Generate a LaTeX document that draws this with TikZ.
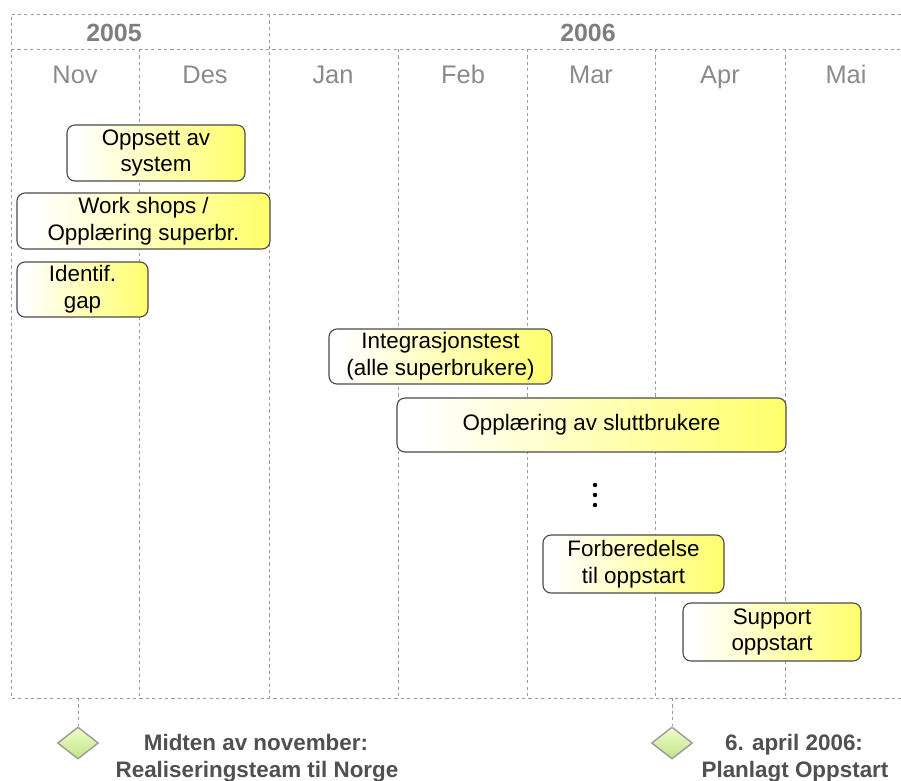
\documentclass[tikz,border=0pt]{standalone}
\usepackage{fontspec}
\setmainfont{Liberation Sans}
\usetikzlibrary{shapes.geometric}

% white-to-yellow fill of the task bars
\pgfdeclarehorizontalshading{taskfill}{100bp}{%
  rgb(0bp)=(1,1,1); rgb(28bp)=(1,1,1); rgb(75bp)=(1,1,0.42); rgb(100bp)=(1,1,0.42)}
% pale green fill of the milestone marks
\pgfdeclareverticalshading{milefill}{100bp}{%
  rgb(0bp)=(0.76,0.89,0.52); rgb(25bp)=(0.76,0.89,0.52); rgb(75bp)=(0.94,1,0.80); rgb(100bp)=(0.94,1,0.80)}

\definecolor{gridgray}{HTML}{9A9A9A}
\definecolor{labelgray}{HTML}{8A8A8A}
\definecolor{yeargray}{HTML}{7E7E7E}
\definecolor{milegray}{HTML}{505050}
\definecolor{edgegray}{HTML}{4A4A4A}

\tikzset{
  grid line/.style={draw=gridgray, line width=0.9pt, dash pattern=on 3.2pt off 3.2pt},
  month/.style={text=labelgray, anchor=base, font=\fontsize{25.5}{30}\selectfont},
  year/.style={text=yeargray, anchor=base, font=\fontsize{25}{30}\selectfont\bfseries},
  task/.style={draw=edgegray, line width=1.1pt, rounded corners=8pt,
    shading=taskfill, align=center, inner sep=0pt,
    font=\fontsize{22.5}{27}\selectfont},
  milestone/.style={diamond, draw=gridgray, line width=1.4pt, shading=milefill,
    shading angle=0, minimum width=41bp, minimum height=32bp, inner sep=0pt},
  miletext/.style={text=milegray, align=center, anchor=base,
    font=\fontsize{22.5}{27.5}\selectfont\bfseries},
}

\begin{document}
\begin{tikzpicture}[x=1bp, y=-1bp]
  \useasboundingbox (0,0) rectangle (901,781);

  % calendar frame
  \draw[grid line] (901,14) -- (11,14) -- (11,698) -- (901,698);
  \draw[grid line] (11,49) -- (901,49);
  \draw[grid line] (269,14) -- (269,698);
  \foreach \x in {139,398,527,655,785}
    \draw[grid line] (\x,49) -- (\x,698);

  % years
  \node[year] (y2005) at (114,42) {2005};
  \node[year] (y2006) at (588,42) {2006};

  % months
  \node[month] (mnov) at (75,84)  {Nov};
  \node[month] (mdes) at (205,84) {Des};
  \node[month] (mjan) at (333,84) {Jan};
  \node[month] (mfeb) at (463,84) {Feb};
  \node[month] (mmar) at (591,84) {Mar};
  \node[month] (mapr) at (720,84) {Apr};
  \node[month] (mmai) at (846,84) {Mai};

  % activities
  \node[task, minimum width=178bp, minimum height=56bp] (t1) at (156,153)
    {Oppsett av\\system};
  \node[task, minimum width=253bp, minimum height=56bp] (t2) at (143.5,221)
    {Work shops /\\Opplæring superbr.};
  \node[task, minimum width=131bp, minimum height=55bp] (t3) at (82.5,289.5)
    {Identif.\\gap};
  \node[task, minimum width=223bp, minimum height=55bp] (t4) at (440.5,356.5)
    {Integrasjonstest\\(alle superbrukere)};
  \node[task, minimum width=389bp, minimum height=54bp] (t5) at (591.5,425)
    {Opplæring av sluttbrukere};
  \node[task, minimum width=181bp, minimum height=58bp] (t6) at (633.5,564)
    {Forberedelse\\til oppstart};
  \node[task, minimum width=178bp, minimum height=58bp] (t7) at (772,632)
    {Support\\oppstart};

  % continuation dots
  \foreach \y in {485,495,505}
    \fill (595,\y) circle (2.2bp);

  % milestones
  \coordinate (m1top) at (78,698);
  \coordinate (m2top) at (672,698);
  \node[milestone] (m1) at (78,743) {};
  \node[milestone] (m2) at (672,743) {};
  \draw[grid line] (m1top) -- (m1.north);
  \draw[grid line] (m2top) -- (m2.north);
  \node[miletext] (m1a) at (256,750) {Midten av november:};
  \node[miletext] (m1b) at (257,777) {Realiseringsteam til Norge};
  \node[miletext] (m2a) at (794,750) {6. april 2006:};
  \node[miletext] (m2b) at (795,777) {Planlagt Oppstart};
\end{tikzpicture}
\end{document}
